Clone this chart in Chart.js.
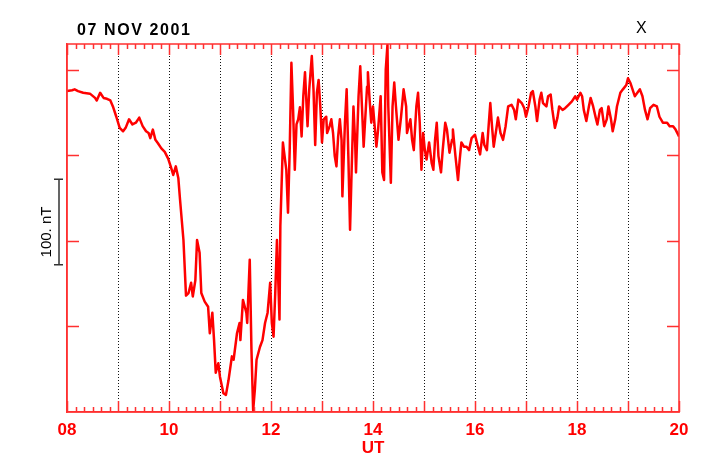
<!DOCTYPE html>
<html>
<head>
<meta charset="utf-8">
<title>07 NOV 2001 - X</title>
<script src="https://cdn.jsdelivr.net/npm/chart.js@4.4.1/dist/chart.umd.min.js"></script>
<style>
  html, body { margin: 0; padding: 0; background: #fff; }
  #wrap { position: relative; width: 719px; height: 464px; }
  #c { position: absolute; left: 0; top: 0; }
  .lbl { position: absolute; font-family: "Liberation Sans", Arial, sans-serif; color: #000; white-space: nowrap; line-height: 16px; }
  #title { left: 77px; top: 22px; font-size: 16px; font-weight: bold; letter-spacing: 1.6px; }
  #comp { left: 636px; top: 20px; font-size: 16px; }
  #scaleLbl { left: 16px; top: 224px; width: 60px; text-align: center; font-size: 15px;
              font-family: "Liberation Sans Narrow", "Liberation Sans", Arial, sans-serif;
              transform: rotate(-90deg); transform-origin: 30px 8px; }
</style>
</head>
<body>
<div id="wrap">
  <canvas id="c" width="719" height="464"></canvas>
  <div class="lbl" id="title">07 NOV 2001</div>
  <div class="lbl" id="comp">X</div>
  <div class="lbl" id="scaleLbl">100. nT</div>
</div>
<script>
// X component, 08-20 UT. time = minutes after 08:00 UT, value = nT above plot floor
const utMinutes = [
  0, 6, 9, 13, 19, 27, 33, 35, 39, 43, 47, 51, 54, 58, 62, 66, 69, 73, 77, 81,
  85, 89, 93, 96, 98, 101, 104, 107, 111, 115, 119, 122, 125, 128, 131, 133, 137, 140, 143, 146,
  148, 151, 153, 156, 158, 162, 166, 168, 171, 173, 175, 178, 180, 184, 187, 190, 194, 196, 200, 203,
  204, 207, 211, 212, 215, 217, 219, 221, 223, 227, 230, 233, 236, 239, 241, 243, 245, 247, 250, 251,
  254, 258, 260, 262, 264, 266, 268, 270, 272, 274, 276, 278, 280, 283, 285, 288, 290, 292, 294, 296,
  298, 300, 302, 305, 306, 309, 311, 313, 315, 317, 319, 321, 323, 324, 327, 329, 331, 333, 335, 337,
  339, 340, 343, 345, 347, 349, 353, 354, 356, 358, 360, 364, 366, 369, 371, 373, 375, 377, 378, 381,
  383, 385, 387, 390, 393, 396, 399, 400, 404, 406, 408, 411, 413, 415, 417, 419, 421, 423, 426, 429,
  431, 433, 435, 437, 440, 442, 445, 447, 450, 453, 454, 457, 460, 462, 464, 467, 470, 473, 476, 480,
  483, 486, 489, 491, 494, 496, 498, 500, 502, 505, 507, 510, 513, 516, 519, 523, 526, 528, 531, 535,
  538, 540, 543, 546, 548, 551, 553, 556, 558, 560, 564, 566, 569, 571, 574, 577, 579, 583, 586, 590,
  594, 598, 600, 604, 606, 608, 611, 614, 616, 619, 622, 624, 627, 629, 632, 635, 637, 640, 642, 645,
  647, 651, 654, 658, 660, 663, 666, 668, 671, 674, 677, 680, 683, 686, 690, 694, 697, 701, 706, 709,
  713, 716, 719, 720
];
const xNT = [
  375, 376, 377, 375, 373, 372, 367, 364, 373, 367, 366, 364, 357, 345, 332, 328, 332, 342, 336, 338,
  344, 334, 328, 326, 320, 330, 318, 314, 308, 304, 296, 287, 277, 287, 273, 248, 201, 136, 139, 151,
  135, 154, 201, 186, 139, 129, 123, 92, 116, 84, 46, 57, 41, 22, 20, 37, 65, 61, 92, 104,
  84, 131, 116, 104, 178, 73, 2, 26, 61, 76, 84, 104, 116, 151, 104, 88, 139, 201, 108, 217,
  315, 283, 233, 306, 408, 353, 283, 336, 342, 356, 322, 369, 397, 334, 377, 416, 377, 312, 373, 388,
  357, 315, 342, 345, 326, 334, 342, 326, 299, 287, 322, 342, 318, 252, 338, 377, 299, 213, 287, 357,
  315, 280, 369, 404, 357, 310, 380, 397, 365, 338, 357, 310, 330, 369, 280, 271, 400, 429, 357, 268,
  357, 385, 357, 318, 345, 377, 357, 326, 342, 318, 306, 357, 373, 338, 283, 326, 306, 295, 315, 291,
  283, 318, 338, 299, 280, 306, 338, 330, 303, 318, 330, 299, 271, 295, 315, 310, 310, 306, 320, 324,
  312, 301, 326, 312, 306, 334, 361, 334, 310, 330, 344, 326, 318, 334, 357, 359, 353, 342, 365, 361,
  355, 345, 357, 373, 375, 357, 340, 365, 373, 361, 357, 369, 371, 353, 332, 344, 357, 353, 355, 359,
  363, 369, 365, 373, 369, 353, 340, 357, 367, 357, 344, 336, 353, 355, 334, 342, 357, 342, 328, 342,
  357, 373, 377, 382, 390, 384, 375, 369, 373, 377, 369, 353, 342, 355, 359, 357, 345, 338, 338, 334,
  334, 330, 324, 322
];
const hourLabels = ['08', '10', '12', '14', '16', '18', '20'];
const yTickValues = [100, 200, 300, 400];
const scaleBar = [172, 272]; // 100 nT reference bar

const LINE_RED = '#ff0000';
const AXIS_RED = '#ff3030';

// red box, inward minor/major ticks and the 100 nT bar
const frameTicks = {
  id: 'frameTicks',
  afterDatasetsDraw(chart) {
    const { ctx, chartArea: a, scales: { x, y } } = chart;
    ctx.save();
    ctx.strokeStyle = AXIS_RED;
    ctx.lineWidth = 1.5;
    ctx.strokeRect(a.left, a.top, a.right - a.left, a.bottom - a.top);
    ctx.beginPath();
    for (let m = 0; m <= 720; m += 10) {
      const px = Math.round(x.getPixelForValue(m)) + 0.5;
      const len = m % 60 === 0 ? 11 : 5;
      ctx.moveTo(px, a.bottom); ctx.lineTo(px, a.bottom - len);
      ctx.moveTo(px, a.top); ctx.lineTo(px, a.top + len);
    }
    yTickValues.forEach(v => {
      const py = Math.round(y.getPixelForValue(v)) + 0.5;
      ctx.moveTo(a.left, py); ctx.lineTo(a.left + 12, py);
      ctx.moveTo(a.right, py); ctx.lineTo(a.right - 12, py);
    });
    ctx.stroke();

    ctx.strokeStyle = '#333';
    ctx.lineWidth = 1.5;
    const b0 = y.getPixelForValue(scaleBar[0]);
    const b1 = y.getPixelForValue(scaleBar[1]);
    const bx = a.left - 8;
    ctx.beginPath();
    ctx.moveTo(bx, b0); ctx.lineTo(bx, b1);
    ctx.moveTo(bx - 5, b0); ctx.lineTo(bx + 4, b0);
    ctx.moveTo(bx - 5, b1); ctx.lineTo(bx + 4, b1);
    ctx.stroke();
    ctx.restore();
  }
};

const chart = new Chart(document.getElementById('c'), {
  type: 'line',
  data: {
    datasets: [{
      data: utMinutes.map((m, i) => ({ x: m, y: xNT[i] })),
      borderColor: LINE_RED,
      borderWidth: 2.5,
      pointRadius: 0,
      tension: 0,
      borderJoinStyle: 'round'
    }]
  },
  options: {
    responsive: false,
    animation: false,
    devicePixelRatio: 1,
    layout: { padding: { left: 67, right: 40, top: 44, bottom: 0 } },
    plugins: { legend: { display: false }, tooltip: { enabled: false } },
    scales: {
      x: {
        type: 'linear',
        min: 0,
        max: 720,
        afterFit: s => { s.height = 52; },
        ticks: {
          stepSize: 60,
          autoSkip: false,
          maxRotation: 0,
          padding: 8,
          color: LINE_RED,
          font: { family: 'Liberation Sans, Arial, sans-serif', size: 17, weight: 'bold' },
          callback: v => (v % 120 === 0 ? hourLabels[v / 120] : '')
        },
        grid: {
          drawTicks: false,
          lineWidth: 1,
          color: c => (c.tick && c.tick.value > 0 && c.tick.value < 720) ? '#111' : 'rgba(0,0,0,0)'
        },
        border: { color: AXIS_RED, width: 1.5, dash: [1, 2] },
        title: {
          display: true,
          text: 'UT',
          color: LINE_RED,
          font: { family: 'Liberation Sans, Arial, sans-serif', size: 17, weight: 'bold' },
          padding: { top: 0, bottom: 5 }
        }
      },
      y: {
        min: 0,
        max: 430,
        afterFit: s => { s.width = 0; },
        ticks: { display: false },
        grid: { display: false },
        border: { color: AXIS_RED, width: 1.5 }
      }
    }
  },
  plugins: [frameTicks]
});
</script>
</body>
</html>
